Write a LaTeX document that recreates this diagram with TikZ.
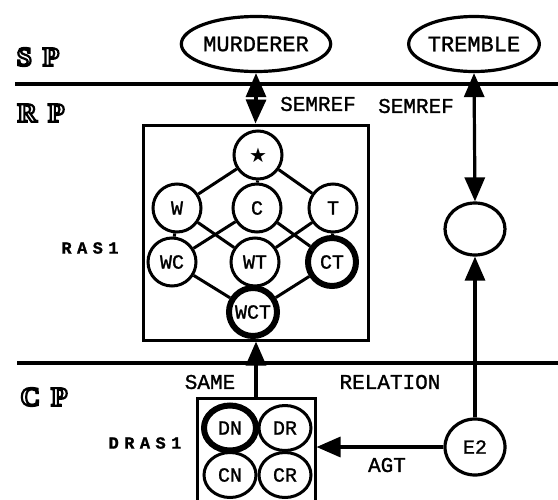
\documentclass[tikz,border=0pt]{standalone}
\usepackage{fontspec}
\setmonofont[FakeBold=1.2]{Liberation Mono}
\newfontfamily\planefont{Liberation Serif}
\newfontfamily\symfont{DejaVu Sans}
\usetikzlibrary{shapes.geometric,arrows.meta}

% hollow (stroked) letters for the plane names
\newcommand\hollow[1]{\special{pdf:literal direct 1 Tr 2.2 w}#1\special{pdf:literal direct 0 Tr}}

\tikzset{
  plane/.style={font=\planefont\bfseries\fontsize{27}{27}\selectfont, inner sep=0pt},
  lbl/.style={font=\ttfamily\fontsize{21}{21}\selectfont, inner sep=0pt},
  setname/.style={font=\ttfamily\bfseries\fontsize{17}{17}\selectfont\addfontfeature{LetterSpace=32}, inner sep=0pt},
  concept/.style={ellipse, draw, line width=3.2pt, font=\ttfamily\fontsize{22}{22}\selectfont, inner sep=0pt},
  lat/.style={circle, draw, line width=3pt, minimum size=48pt, inner sep=0pt, font=\ttfamily\fontsize{20}{20}\selectfont},
  latbold/.style={lat, line width=6pt},
  cell/.style={ellipse, draw, line width=3pt, minimum width=52pt, minimum height=45pt, inner sep=0pt, font=\ttfamily\fontsize{20}{20}\selectfont},
  cellbold/.style={cell, line width=6pt},
  frame/.style={rectangle, draw, line width=3pt, inner sep=0pt},
  planeline/.style={line width=3.6pt},
  edge/.style={line width=3pt},
  link/.style={line width=3.2pt},
  tip/.style={-{Triangle[width=20pt,length=24pt]}},
}

\begin{document}
\begin{tikzpicture}[x=1pt, y=-1pt]
\clip (0,0) rectangle (558,499);
\fill[white] (0,0) rectangle (558,499);

% plane separators
\coordinate (sL) at (15,84);
\coordinate (sR) at (558,84);
\coordinate (cL) at (17,363);
\coordinate (cR) at (558,363);
\draw[planeline] (sL) -- (sR);
\draw[planeline] (cL) -- (cR);

% surface concepts
\node[concept, minimum width=134pt, minimum height=55pt] (murd) at (256,44) {MURDERER};
\node[concept, minimum width=112pt, minimum height=55pt] (trem) at (474,44) {TREMBLE};

% referent attribute set RAS1
\node[frame, minimum width=225pt, minimum height=215pt] (ras) at (255.5,232.5) {};
\node[setname] (rasname) at (90,248) {RAS1};

\node[lat] (star) at (258,155) {\symfont\fontsize{20}{20}\selectfont ★};
\node[lat] (w)  at (177,208) {W};
\node[lat] (c)  at (257,208) {C};
\node[lat] (t)  at (333,208) {T};
\node[lat] (wc) at (172,262) {WC};
\node[lat] (wt) at (255,262) {WT};
\node[latbold] (ct) at (332,262) {CT};
\node[latbold] (wct) at (253,312) {WCT};

\draw[edge] (star) -- (w);
\draw[edge] (star) -- (c);
\draw[edge] (star) -- (t);
\draw[edge] (w) -- (wc);
\draw[edge] (w) -- (wt);
\draw[edge] (c) -- (wc);
\draw[edge] (c) -- (ct);
\draw[edge] (t) -- (wt);
\draw[edge] (t) -- (ct);
\draw[edge] (wc) -- (wct);
\draw[edge] (wt) -- (wct);
\draw[edge] (ct) -- (wct);

% referent of the event
\node[ellipse, draw, line width=3.2pt, minimum width=60pt, minimum height=52pt] (ref) at (475,229) {};

% conceptual plane: discourse attribute set DRAS1 and event E2
\node[frame, minimum width=118pt, minimum height=130pt] (dras) at (256,463) {};
\node[setname] (drasname) at (145,443) {DRAS1};
\node[cellbold] (dn) at (230,428) {DN};
\node[cell] (dr) at (285,428) {DR};
\node[cell] (cn) at (230,475) {CN};
\node[cell] (cr) at (285,475) {CR};

\node[ellipse, draw, line width=3.2pt, minimum width=60pt, minimum height=56pt, font=\ttfamily\fontsize{20}{20}\selectfont, inner sep=0pt] (e2) at (475,447) {E2};

% semantic references
\coordinate (mid1) at (256,100);
\draw[link, tip] (mid1) -- (murd.south);
\draw[link, tip] (mid1) -- (ras.north);
\draw[link, {Triangle[width=20pt,length=24pt]}-{Triangle[width=20pt,length=24pt]}] (trem.south) -- (ref.north);
\node[lbl] (sem1) at (318,104) {SEMREF};
\node[lbl] (sem2) at (416,106) {SEMREF};

% relations from the conceptual plane
\draw[link, tip] (dras.north) -- (dras.north |- ras.south);
\draw[link, tip] (e2.north) -- (ref.south);
\draw[link, tip] (e2.west) -- (e2.west -| dras.east);
\node[lbl] (same) at (210,382) {SAME};
\node[lbl] (rel) at (390,382) {RELATION};
\node[lbl] (agt) at (387,465) {AGT};

% plane names
\node[plane] (sp) at (38,57) {\hollow{S\hspace{11pt}P}};
\node[plane] (rp) at (41,113) {\hollow{R\hspace{11pt}P}};
\node[plane] (cp) at (44,397) {\hollow{C\hspace{11pt}P}};
\end{tikzpicture}
\end{document}
